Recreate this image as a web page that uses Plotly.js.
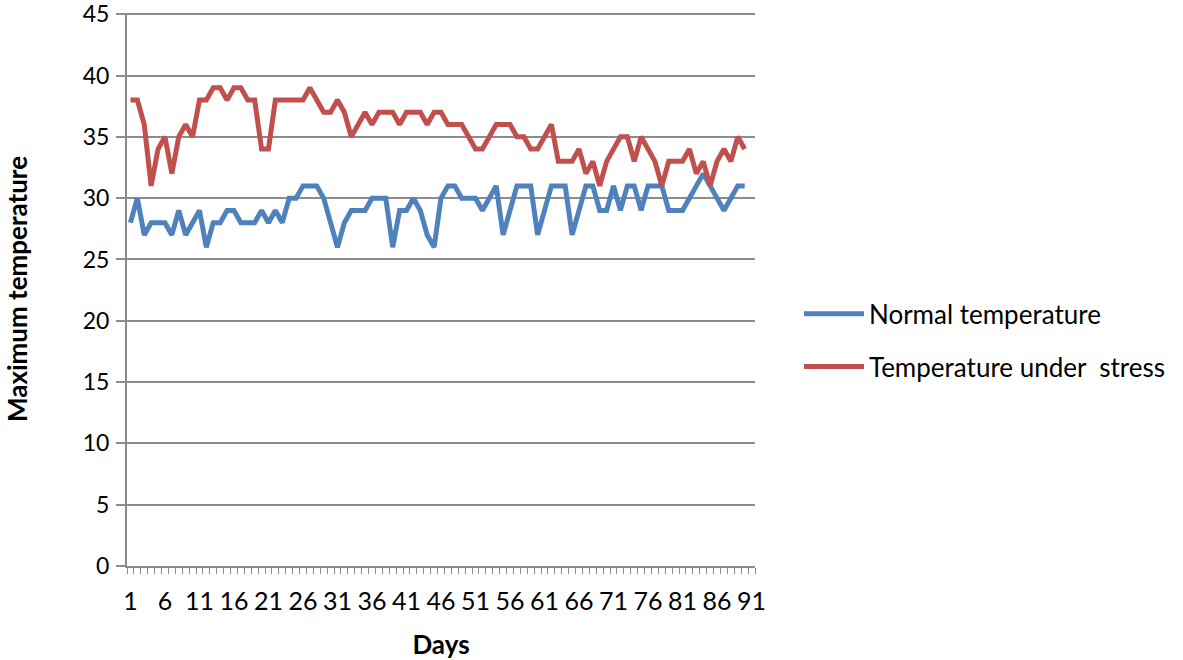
<!DOCTYPE html>
<html>
<head>
<meta charset="utf-8">
<script src="https://cdn.plot.ly/plotly-3.0.1.min.js"></script>
<style>html,body{margin:0;padding:0;background:#fff;}#chart{width:1183px;height:660px;}</style>
</head>
<body>
<div id="chart"></div>
<script>
var days = [];
for (var i = 1; i <= 90; i++) days.push(i);

var normalTemp = [
  28,30,27,28,28,28,27,29,27,28,
  29,26,28,28,29,29,28,28,28,29,
  28,29,28,30,30,31,31,31,30,28,
  26,28,29,29,29,30,30,30,26,29,
  29,30,29,27,26,30,31,31,30,30,
  30,29,30,31,27,29,31,31,31,27,
  29,31,31,31,27,29,31,31,29,29,
  31,29,31,31,29,31,31,31,29,29,
  29,30,31,32,31,30,29,30,31,31
];

var stressTemp = [
  38,38,36,31,34,35,32,35,36,35,
  38,38,39,39,38,39,39,38,38,34,
  34,38,38,38,38,38,39,38,37,37,
  38,37,35,36,37,36,37,37,37,36,
  37,37,37,36,37,37,36,36,36,35,
  34,34,35,36,36,36,35,35,34,34,
  35,36,33,33,33,34,32,33,31,33,
  34,35,35,33,35,34,33,31,33,33,
  33,34,32,33,31,33,34,33,35,34
];

var seriesNames = ['Normal temperature', 'Temperature under  stress'];
var xTitle = 'Days';
var yTitle = 'Maximum temperature';

var font = 'Lato, "Open Sans", "Liberation Sans", sans-serif';
var gridColor = '#8c8c8c';

var traces = [
  {x: days, y: normalTemp, name: seriesNames[0], type: 'scatter', mode: 'lines',
   line: {color: '#4F81BD', width: 5, shape: 'linear'}, legendgroup: 'a'},
  {x: days, y: stressTemp, name: seriesNames[1], type: 'scatter', mode: 'lines',
   line: {color: '#C0504D', width: 5, shape: 'linear'}, legendgroup: 'b'}
];

var layout = {
  width: 1183, height: 660,
  margin: {l: 127, r: 425, t: 13, b: 94},
  paper_bgcolor: '#fff', plot_bgcolor: '#fff',
  font: {family: font, size: 26, color: '#000'},
  showlegend: true,
  legend: {x: 1.07, xanchor: 'left', y: 0.408, yanchor: 'middle',
           font: {family: font, size: 26, color: '#000'},
           itemwidth: 60, tracegroupgap: 16, traceorder: 'grouped',
           bgcolor: 'rgba(0,0,0,0)'},
  xaxis: {
    range: [0.5, 91.5], tickmode: 'linear', tick0: 1, dtick: 5,
    ticks: '', showgrid: false, zeroline: false,
    showline: true, linecolor: gridColor, linewidth: 2,
    tickfont: {family: font, size: 25, color: '#000'},
    ticklabelstandoff: 12, ticklabeloverflow: 'allow',
    minor: {tick0: 0.5, dtick: 1, ticks: 'outside', ticklen: 6, tickwidth: 1, tickcolor: gridColor, showgrid: false},
    title: {text: xTitle, font: {family: font, size: 26, color: '#000', weight: 'bold'}, standoff: 22},
    automargin: false, fixedrange: true
  },
  yaxis: {
    range: [0, 45.1], tickmode: 'linear', tick0: 0, dtick: 5,
    ticks: 'outside', ticklen: 9, tickwidth: 2, tickcolor: gridColor,
    showgrid: true, gridcolor: gridColor, gridwidth: 2,
    zeroline: false, showline: true, linecolor: gridColor, linewidth: 2,
    tickfont: {family: font, size: 23, color: '#000'},
    ticklabelstandoff: 2, ticklabeloverflow: 'allow',
    automargin: false, fixedrange: true
  },
  annotations: [{
    text: yTitle, xref: 'paper', yref: 'paper',
    x: (16 - 127) / 631, y: 0.5, xanchor: 'center', yanchor: 'middle',
    textangle: -90, showarrow: false,
    font: {family: font, size: 26, color: '#000', weight: 'bold'}
  }]
};

Plotly.newPlot('chart', traces, layout, {staticPlot: true, displayModeBar: false});
</script>
</body>
</html>
